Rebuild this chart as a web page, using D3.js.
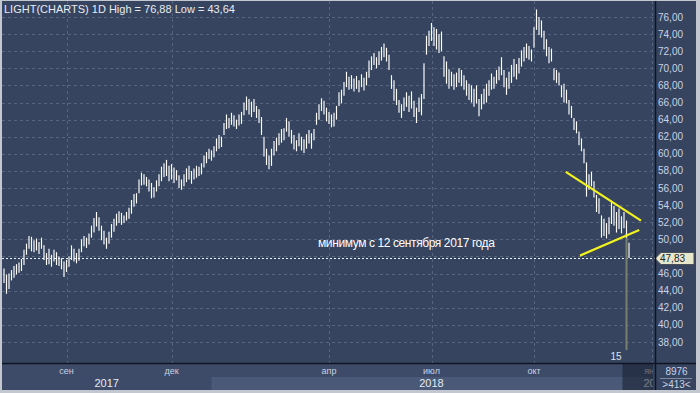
<!DOCTYPE html>
<html>
<head>
<meta charset="utf-8">
<script src="https://cdn.jsdelivr.net/npm/d3@7"></script>
<style>
  html, body { margin: 0; padding: 0; background: #c3c7cf; }
  svg { display: block; font-family: "Liberation Sans", Arial, sans-serif; }
</style>
</head>
<body>
<svg id="chart"></svg>
<script>
// daily bars (high / low), Aug 2017 .. Nov 2018
const highs = [
  46.6, 45.9, 46.0, 46.4, 46.9, 47.1, 47.3, 47.7, 48.8, 49.5,
  50.4, 50.3, 49.9, 50.1, 49.7, 50.2, 49.3, 48.4, 48.9, 48.2,
  48.8, 48.5, 48.0, 47.8, 47.4, 47.6, 48.0, 49.3, 48.9, 48.4,
  48.9, 50.0, 50.4, 50.2, 50.7, 51.6, 52.5, 53.2, 52.6, 51.6,
  51.0, 50.2, 50.9, 51.8, 52.4, 53.0, 53.3, 53.1, 52.8, 53.2,
  53.7, 54.6, 55.3, 55.4, 57.0, 57.8, 57.6, 57.3, 57.0, 56.6,
  56.1, 56.9, 57.6, 58.5, 58.9, 59.3, 58.6, 58.8, 58.4, 58.1,
  57.5, 57.0, 57.6, 58.3, 58.6, 58.0, 58.3, 58.6, 58.5, 58.9,
  59.8, 60.2, 60.6, 60.4, 60.9, 61.8, 62.2, 62.0, 63.6, 64.6,
  64.2, 64.8, 64.5, 64.0, 64.6, 64.9, 66.0, 66.7, 66.4, 66.1,
  66.4, 65.6, 65.2, 64.3, 62.0, 60.6, 59.8, 60.6, 61.5, 61.9,
  62.4, 62.9, 63.0, 64.2, 63.8, 62.8, 62.2, 61.6, 62.4, 62.0,
  61.7, 62.3, 62.8, 62.4, 62.9, 64.8, 65.8, 66.5, 66.2, 65.4,
  64.9, 64.6, 64.8, 65.6, 67.2, 67.5, 68.4, 69.6, 69.0, 69.2,
  68.8, 69.1, 68.6, 69.3, 68.9, 69.6, 70.9, 71.4, 71.8, 71.3,
  72.0, 72.5, 72.9, 72.4, 71.6, 69.2, 68.6, 67.6, 66.3, 65.8,
  66.6, 67.2, 66.8, 67.3, 66.2, 65.4, 66.6, 67.0, 70.6, 73.8,
  74.4, 75.3, 74.8, 74.6, 74.0, 74.3, 71.4, 70.8, 69.9, 69.6,
  69.3, 69.5, 70.0, 69.8, 69.2, 68.6, 68.2, 68.0, 67.6, 68.0,
  66.4, 67.0, 67.6, 68.2, 68.6, 69.4, 69.0, 69.8, 70.2, 71.3,
  69.8, 68.9, 69.6, 70.4, 71.1, 70.5, 71.2, 72.1, 72.5, 72.9,
  72.6, 72.2, 74.8, 76.88, 76.0, 75.6, 74.4, 73.4, 72.5, 72.3,
  70.0, 69.8, 69.5, 68.0, 68.2, 67.5, 66.3, 65.6, 64.2, 63.8,
  62.6, 61.8, 60.6, 59.0, 57.6, 57.9, 56.8, 55.2, 54.8, 52.8,
  52.4, 51.9, 52.6, 54.4, 53.9, 53.2, 53.6, 52.7, 53.2, 52.2, 49.6
];
const lows = [
  44.9, 43.64, 44.2, 45.2, 45.5, 45.9, 46.1, 46.3, 47.0, 48.2,
  48.9, 48.6, 48.5, 48.7, 48.3, 48.9, 47.6, 47.0, 47.1, 46.8,
  47.4, 47.0, 46.9, 46.5, 45.6, 46.2, 46.8, 47.6, 47.4, 47.2,
  47.5, 48.5, 49.2, 49.0, 49.4, 50.2, 50.8, 51.5, 51.0, 49.9,
  49.4, 48.9, 49.5, 50.2, 50.9, 51.6, 51.9, 51.7, 51.9, 52.2,
  52.4, 53.0, 53.8, 54.2, 55.4, 56.3, 56.4, 56.2, 55.6, 54.8,
  54.9, 55.6, 56.2, 56.8, 57.3, 57.4, 56.8, 57.0, 56.6, 56.9,
  56.0, 55.8, 56.2, 56.7, 57.0, 56.5, 57.0, 57.2, 57.4, 57.6,
  58.4, 58.9, 59.4, 59.2, 59.6, 60.3, 60.6, 60.8, 62.2, 62.9,
  63.0, 63.4, 63.2, 62.9, 63.3, 63.5, 64.5, 65.1, 64.6, 64.3,
  64.9, 64.2, 63.6, 62.2, 59.7, 58.7, 58.2, 58.6, 59.8, 60.3,
  61.0, 61.3, 61.6, 62.6, 62.0, 61.2, 60.5, 60.3, 60.9, 60.4,
  60.1, 60.6, 61.2, 60.6, 61.6, 63.4, 64.0, 65.0, 64.6, 63.8,
  63.5, 63.1, 63.2, 64.0, 65.6, 65.9, 66.8, 67.8, 67.5, 67.6,
  67.3, 67.6, 67.2, 67.8, 67.4, 68.0, 68.9, 69.8, 70.4, 70.0,
  70.4, 70.9, 71.3, 70.8, 69.8, 67.6, 66.2, 65.7, 64.8, 64.2,
  65.0, 65.5, 64.9, 65.3, 64.3, 63.6, 64.9, 64.5, 66.4, 71.6,
  72.6, 73.2, 72.6, 72.2, 71.8, 72.0, 69.0, 68.2, 67.6, 67.9,
  67.5, 67.8, 68.3, 67.9, 67.5, 66.8, 66.3, 66.0, 65.5, 65.9,
  64.4, 65.2, 65.8, 66.0, 66.8, 67.5, 67.6, 68.2, 68.6, 69.2,
  67.8, 66.9, 67.6, 68.3, 69.0, 68.7, 69.4, 70.2, 70.8, 71.2,
  71.0, 70.8, 72.4, 74.5, 73.9, 73.6, 72.2, 71.4, 70.6, 70.8,
  68.6, 68.3, 68.0, 66.6, 66.0, 65.9, 64.6, 64.2, 62.8, 62.4,
  61.0, 60.3, 58.9, 55.0, 55.8, 56.2, 54.9, 53.2, 53.0, 50.2,
  50.4, 50.1, 50.6, 51.8, 51.6, 50.8, 51.2, 50.7, 51.3, 50.2, 47.83
];

const yTicks = [38, 40, 42, 44, 46, 48, 50, 52, 54, 56, 58, 60, 62, 64, 66, 68, 70, 72, 74, 76];
const monthLabels = ["сен", "дек", "апр", "июл", "окт", "янв"];
const monthIdx = [25, 67, 130, 171, 212, 259];
const yearLabels = ["2017", "2018", "2019"];
const yearIdx = [0, 83, 259];

const title = "LIGHT(CHARTS) 1D High = 76,88 Low = 43,64";
const lastPrice = 47.83;
const note = "минимум с 12 сентября 2017 года";
const notePos = [125.6, 49.1];
// triangle drawn on the chart: [bar index, price]
const trendUpper = [[224.7, 57.9], [254.8, 52.2]];
const trendLower = [[230.4, 48.1], [254.1, 51.1]];
const cursorIdx = 249;
const cursorLabel = "15";
const cursorTop = 50.7;
const volText = "8976";
const countText = ">413<";

const width = 700, height = 393;
const plot = { left: 2, right: 655, top: 1, bottom: 363 };
const frameRight = 696, frameBottom = 390;

const svg = d3.select("#chart").attr("width", width).attr("height", height);

const x = d3.scaleLinear().domain([0, highs.length - 1]).range([4, 629]);
const y = d3.scaleLinear().domain([38, 76]).range([342, 17]);
const fmt = v => d3.format(".2f")(v).replace(".", ",");

// background panels
svg.append("rect").attr("width", width).attr("height", height).attr("fill", "#c3c7cf");
svg.append("rect")
  .attr("x", plot.left).attr("y", plot.top)
  .attr("width", frameRight - plot.left).attr("height", frameBottom - plot.top)
  .attr("fill", "#364460");

svg.append("clipPath").attr("id", "plotClip").append("rect")
  .attr("x", plot.left).attr("y", plot.top)
  .attr("width", plot.right - plot.left).attr("height", plot.bottom - plot.top);
svg.append("clipPath").attr("id", "axisClip").append("rect")
  .attr("x", plot.left).attr("y", plot.bottom)
  .attr("width", plot.right - plot.left - 2).attr("height", frameBottom - plot.bottom);

// bottom axis rows, year bands
const axisG = svg.append("g").attr("clip-path", "url(#axisClip)");
axisG.append("rect")
  .attr("x", plot.left).attr("y", plot.bottom)
  .attr("width", plot.right - plot.left).attr("height", frameBottom - plot.bottom)
  .attr("fill", "#3d4b69");

const segStart = (d, i) => i === 0 ? plot.left : x(yearIdx[i]);
const segEnd = (d, i) => i === yearLabels.length - 1 ? plot.right : x(yearIdx[i + 1]);

axisG.selectAll("rect.year")
  .data(yearLabels)
  .enter().append("rect")
  .attr("class", "year")
  .attr("x", segStart)
  .attr("y", 377)
  .attr("width", (d, i) => segEnd(d, i) - segStart(d, i))
  .attr("height", frameBottom - 377)
  .attr("fill", (d, i) => i % 2 === 1 ? "#4a5977" : "#3d4b69");

// the last year band starts at the right edge, so its label is cut short like the original
axisG.selectAll("text.year")
  .data(yearLabels)
  .enter().append("text")
  .attr("class", "year")
  .attr("x", (d, i) => i === yearLabels.length - 1 ? segStart(d, i) - 8 : (segStart(d, i) + segEnd(d, i)) / 2)
  .attr("y", 387)
  .attr("text-anchor", (d, i) => i === yearLabels.length - 1 ? "start" : "middle")
  .style("font-size", "11px")
  .attr("fill", "#e6eaf2")
  .text((d, i) => i === yearLabels.length - 1 ? d.slice(0, 2) : d);

axisG.selectAll("text.month")
  .data(monthLabels)
  .enter().append("text")
  .attr("class", "month")
  .attr("x", (d, i) => x(monthIdx[i]))
  .attr("y", 374)
  .attr("text-anchor", "middle")
  .style("font-size", "9px")
  .attr("fill", "#c9d1e0")
  .text(d => d);

// area after the cursor is shaded
axisG.append("rect")
  .attr("x", x(cursorIdx) - 4).attr("y", plot.bottom)
  .attr("width", plot.right - x(cursorIdx) + 4).attr("height", frameBottom - plot.bottom)
  .attr("fill", "rgba(22,30,46,0.55)");

// grid
const plotG = svg.append("g").attr("clip-path", "url(#plotClip)");
plotG.selectAll("line.hgrid")
  .data(yTicks)
  .enter().append("line")
  .attr("class", "hgrid")
  .attr("x1", plot.left).attr("x2", plot.right)
  .attr("y1", d => Math.round(y(d)) + 0.5).attr("y2", d => Math.round(y(d)) + 0.5)
  .attr("stroke", "#56647f")
  .attr("stroke-dasharray", "3,3");

plotG.selectAll("line.vgrid")
  .data(monthIdx)
  .enter().append("line")
  .attr("class", "vgrid")
  .attr("x1", d => Math.round(x(d)) + 0.5).attr("x2", d => Math.round(x(d)) + 0.5)
  .attr("y1", plot.top).attr("y2", plot.bottom)
  .attr("stroke", "#56647f")
  .attr("stroke-dasharray", "3,3");

// last price line
plotG.append("line")
  .attr("x1", plot.left).attr("x2", plot.right)
  .attr("y1", Math.round(y(lastPrice)) + 0.5).attr("y2", Math.round(y(lastPrice)) + 0.5)
  .attr("stroke", "#eef0f4")
  .attr("stroke-dasharray", "2,2");

// cursor line
plotG.append("line")
  .attr("x1", x(cursorIdx)).attr("x2", x(cursorIdx))
  .attr("y1", y(cursorTop)).attr("y2", plot.bottom - 13)
  .attr("stroke", "#77806c")
  .attr("stroke-width", 2);

// bars
plotG.selectAll("line.bar")
  .data(highs)
  .enter().append("line")
  .attr("class", "bar")
  .attr("x1", (d, i) => x(i)).attr("x2", (d, i) => x(i))
  .attr("y1", d => y(d)).attr("y2", (d, i) => y(lows[i]))
  .attr("stroke", "#ffffff")
  .attr("stroke-width", 1.15);

// triangle lines
const line = d3.line().x(d => x(d[0])).y(d => y(d[1]));
[trendUpper, trendLower].forEach(t => {
  plotG.append("path")
    .attr("d", line(t))
    .attr("fill", "none")
    .attr("stroke", "#f2f21e")
    .attr("stroke-width", 2.2);
});

plotG.append("text")
  .attr("x", x(notePos[0])).attr("y", y(notePos[1]))
  .style("font-size", "12px")
  .style("letter-spacing", "-0.4px")
  .attr("fill", "#ffffff")
  .text(note);

plotG.append("text")
  .attr("x", x(cursorIdx) - 5).attr("y", plot.bottom - 3)
  .attr("text-anchor", "end")
  .style("font-size", "10px")
  .attr("fill", "#dfe3ea")
  .text(cursorLabel);

plotG.append("text")
  .attr("x", 4).attr("y", 13)
  .style("font-size", "11px")
  .attr("fill", "#e8ecf2")
  .text(title);

// right axis labels (the one under the price tag is hidden)
svg.selectAll("text.ylab")
  .data(yTicks.filter(t => Math.abs(y(t) - y(lastPrice)) > 8))
  .enter().append("text")
  .attr("class", "ylab")
  .attr("x", 658)
  .attr("y", d => y(d))
  .attr("dy", "0.35em")
  .style("font-size", "10px")
  .attr("fill", "#c9d3e6")
  .text(d => fmt(d));

// price tag
const py = Math.round(y(lastPrice)) + 0.5;
svg.append("path")
  .attr("d", `M${plot.right},${py} L${plot.right + 6},${py - 6} L${plot.right + 39},${py - 6} L${plot.right + 39},${py + 6} L${plot.right + 6},${py + 6} Z`)
  .attr("fill", "#e7e7cb")
  .attr("stroke", "#4a4f58");
svg.append("text")
  .attr("x", plot.right + 5).attr("y", py)
  .attr("dy", "0.36em")
  .style("font-size", "10px")
  .attr("fill", "#1c2230")
  .text(fmt(lastPrice));

// frame lines
svg.append("line")
  .attr("x1", plot.right + 0.5).attr("x2", plot.right + 0.5)
  .attr("y1", plot.top).attr("y2", frameBottom)
  .attr("stroke", "#0f1522").attr("stroke-width", 1.5);
svg.append("line")
  .attr("x1", plot.left).attr("x2", frameRight)
  .attr("y1", plot.bottom + 0.5).attr("y2", plot.bottom + 0.5)
  .attr("stroke", "#0f1522").attr("stroke-width", 1.5);

// corner box
svg.append("text")
  .attr("x", (plot.right + frameRight) / 2 + 1).attr("y", 375)
  .attr("text-anchor", "middle")
  .style("font-size", "10px")
  .attr("fill", "#c9d3e6")
  .text(volText);
svg.append("line")
  .attr("x1", plot.right + 5).attr("x2", frameRight - 4)
  .attr("y1", 378.5).attr("y2", 378.5)
  .attr("stroke", "#7d8aa4");
svg.append("text")
  .attr("x", (plot.right + frameRight) / 2 + 1).attr("y", 388)
  .attr("text-anchor", "middle")
  .style("font-size", "10px")
  .attr("fill", "#c9d3e6")
  .text(countText);
</script>
</body>
</html>
